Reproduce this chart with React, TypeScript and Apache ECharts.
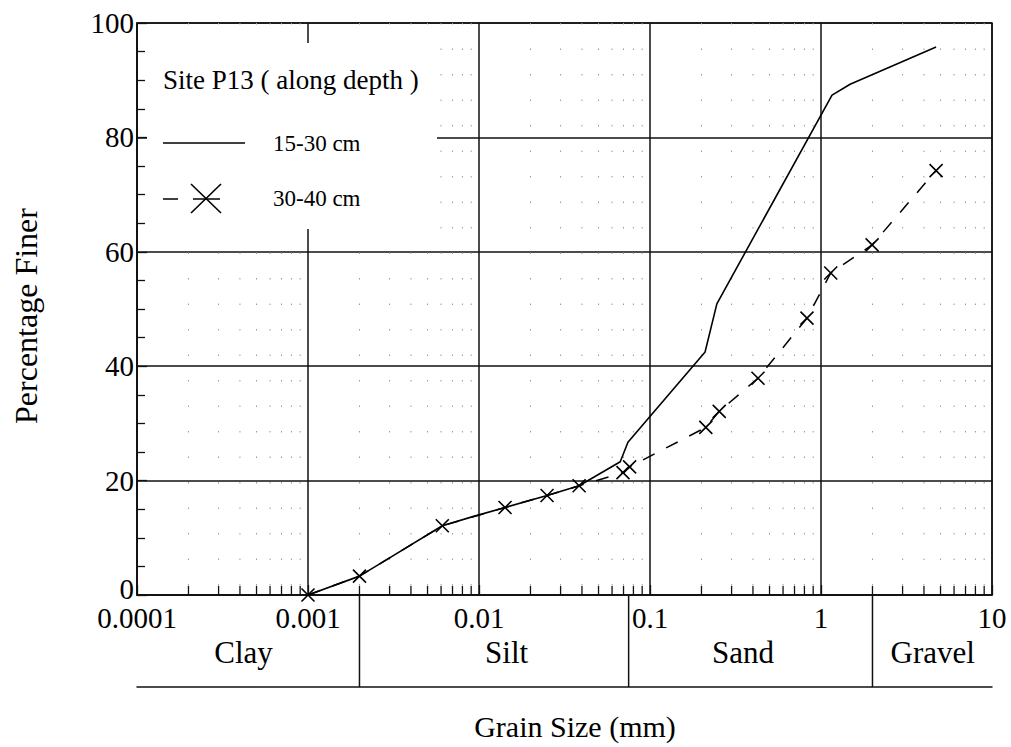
import React, { useEffect, useRef } from "react";
import * as echarts from "echarts";

// Axis labels
const xTickLabels = ["0.0001", "0.001", "0.01", "0.1", "1", "10"];
const decadeStarts = [0.0001, 0.001, 0.01, 0.1, 1];
const minorMultipliers = [2, 3, 4, 5, 6, 7, 8, 9];

// Grain size distribution, 15-30 cm depth
const sizes1530 = [0.001, 0.002, 0.003, 0.0061, 0.0092, 0.0142, 0.025, 0.0385, 0.067, 0.0743, 0.21, 0.246, 1.16, 1.48, 4.71];
const finer1530 = [0, 3.3, 6.5, 12.1, 13.7, 15.3, 17.4, 19.1, 23.3, 26.7, 42.5, 50.9, 87.4, 89.3, 95.8];

// Grain size distribution, 30-40 cm depth
const sizes3040 = [0.001, 0.002, 0.0061, 0.0142, 0.025, 0.0385, 0.0695, 0.076, 0.212, 0.254, 0.428, 0.828, 1.14, 1.99, 4.71];
const finer3040 = [0, 3.3, 12.1, 15.3, 17.4, 19.1, 21.4, 22.4, 29.3, 32.1, 37.9, 48.4, 56.3, 61.2, 74.2];

// Soil classes below the axis
const classNames = ["Clay", "Silt", "Sand", "Gravel"];
const classCenters = [0.00042, 0.0145, 0.35, 4.5];
const classBounds = [0.002, 0.075, 2];

const FONT = "Liberation Serif";
const INK = "#111";

const textStyle = (text: string, size: number, align: string) => ({
  text,
  font: `${size}px ${FONT}`,
  fill: "#000",
  align,
  verticalAlign: "middle",
  textAlign: align,
  textVerticalAlign: "middle",
});

export default function App() {
  const ref = useRef<HTMLDivElement>(null);

  useEffect(() => {
    if (!ref.current) return;
    const chart = echarts.init(ref.current, undefined, { renderer: "svg" });

    const minorTicks: number[] = [];
    decadeStarts.forEach((d) => minorMultipliers.forEach((m) => minorTicks.push(d * m)));

    const option: any = {
      animation: false,
      backgroundColor: "#fff",
      grid: [
        { left: 137, right: 19, top: 23, bottom: 152, show: true, borderColor: INK, borderWidth: 1.5 },
        { left: 137, right: 19, top: 595, height: 92 },
      ],
      xAxis: [
        {
          type: "log",
          logBase: 10,
          min: 0.0001,
          max: 10,
          gridIndex: 0,
          axisLine: { lineStyle: { color: INK, width: 1.5 } },
          axisTick: { inside: true, length: 10, lineStyle: { color: INK, width: 1.3 } },
          splitLine: { show: true, lineStyle: { color: INK, width: 1.5 } },
          axisLabel: {
            color: "#000",
            fontFamily: FONT,
            fontSize: 29,
            margin: 8,
            formatter: (v: number) => xTickLabels[Math.round(Math.log10(v)) + 4] ?? "",
          },
        },
        {
          type: "log",
          logBase: 10,
          min: 0.0001,
          max: 10,
          gridIndex: 1,
          position: "bottom",
          axisLine: { lineStyle: { color: INK, width: 1.5 } },
          axisTick: { show: false },
          axisLabel: { show: false },
          splitLine: { show: false },
        },
      ],
      yAxis: [
        {
          type: "value",
          min: 0,
          max: 100,
          interval: 20,
          gridIndex: 0,
          axisLine: { show: true, lineStyle: { color: INK, width: 1.5 } },
          axisTick: { show: true, inside: true, length: 10, lineStyle: { color: INK, width: 1.3 } },
          minorTick: { show: true, splitNumber: 4, length: 8, lineStyle: { color: INK, width: 1.3 } },
          splitLine: { show: true, lineStyle: { color: INK, width: 1.5 } },
          axisLabel: {
            color: "#000",
            fontFamily: FONT,
            fontSize: 29,
            margin: 3,
            // the zero label sits a little above the axis corner
            formatter: (v: number) => (v === 0 ? "{zero|0}" : String(v)),
            rich: {
              zero: { fontFamily: FONT, fontSize: 29, color: "#000", padding: [0, 0, 12, 0] },
            },
          },
        },
        { type: "value", min: 0, max: 1, gridIndex: 1, show: false },
      ],
      series: [
        {
          // minor decade ticks and faint dotted minor grid
          type: "custom",
          xAxisIndex: 0,
          yAxisIndex: 0,
          silent: true,
          z: 1,
          data: minorTicks.map((v) => [v, 0]),
          renderItem: (_p: any, api: any) => {
            const v = api.value(0);
            const b = api.coord([v, 0]);
            const t = api.coord([v, 100]);
            return {
              type: "group",
              children: [
                {
                  type: "line",
                  shape: { x1: t[0], y1: t[1], x2: b[0], y2: b[1] },
                  style: { stroke: "#999", lineWidth: 1, lineDash: [1.5, 24] },
                },
                {
                  type: "line",
                  shape: { x1: b[0], y1: b[1], x2: b[0], y2: b[1] - 9 },
                  style: { stroke: INK, lineWidth: 1.3 },
                },
              ],
            };
          },
        },
        {
          name: "15-30 cm",
          type: "line",
          xAxisIndex: 0,
          yAxisIndex: 0,
          z: 5,
          symbol: "none",
          data: sizes1530.map((s, i) => [s, finer1530[i]]),
          lineStyle: { color: "#000", width: 1.6 },
          color: "#000",
        },
        {
          name: "30-40 cm",
          type: "line",
          xAxisIndex: 0,
          yAxisIndex: 0,
          z: 6,
          symbol: "path://M0,0L10,10M10,0L0,10",
          symbolSize: 13,
          showAllSymbol: true,
          data: sizes3040.map((s, i) => [s, finer3040[i]]),
          lineStyle: { color: "#000", width: 1.5, type: [13, 13] },
          itemStyle: { color: "none", borderColor: "#000", borderWidth: 1.6 },
          color: "#000",
        },
        {
          // class boundaries
          type: "custom",
          xAxisIndex: 1,
          yAxisIndex: 1,
          silent: true,
          data: classBounds.map((v) => [v, 0]),
          renderItem: (_p: any, api: any) => {
            const v = api.value(0);
            const b = api.coord([v, 0]);
            const t = api.coord([v, 1]);
            return {
              type: "line",
              shape: { x1: t[0], y1: t[1], x2: b[0], y2: b[1] },
              style: { stroke: INK, lineWidth: 1.5 },
            };
          },
        },
        {
          // class names
          type: "custom",
          xAxisIndex: 1,
          yAxisIndex: 1,
          silent: true,
          data: classCenters.map((v) => [v, 0.38]),
          renderItem: (p: any, api: any) => {
            const c = api.coord([api.value(0), api.value(1)]);
            return {
              type: "text",
              x: c[0],
              y: c[1],
              style: textStyle(classNames[p.dataIndex], 31, "center"),
            };
          },
        },
      ],
      graphic: [
        {
          type: "rect",
          z: 100,
          shape: { x: 147, y: 43, width: 290, height: 186 },
          style: { fill: "#fff" },
        },
        { type: "text", z: 101, x: 163, y: 80, style: textStyle("Site P13 ( along depth )", 27, "left") },
        {
          type: "line",
          z: 101,
          shape: { x1: 163, y1: 143, x2: 245, y2: 143 },
          style: { stroke: "#000", lineWidth: 1.6 },
        },
        { type: "text", z: 101, x: 273, y: 143, style: textStyle("15-30 cm", 23, "left") },
        {
          type: "line",
          z: 101,
          shape: { x1: 163, y1: 199, x2: 178, y2: 199 },
          style: { stroke: "#000", lineWidth: 1.5 },
        },
        {
          type: "line",
          z: 101,
          shape: { x1: 193, y1: 199, x2: 220, y2: 199 },
          style: { stroke: "#000", lineWidth: 1.5 },
        },
        {
          type: "line",
          z: 101,
          shape: { x1: 191, y1: 184, x2: 221, y2: 213 },
          style: { stroke: "#000", lineWidth: 1.6 },
        },
        {
          type: "line",
          z: 101,
          shape: { x1: 191, y1: 213, x2: 221, y2: 184 },
          style: { stroke: "#000", lineWidth: 1.6 },
        },
        { type: "text", z: 101, x: 273, y: 198, style: textStyle("30-40 cm", 23, "left") },
        {
          type: "text",
          x: 26,
          y: 316,
          rotation: Math.PI / 2,
          style: textStyle("Percentage Finer", 32, "center"),
        },
        { type: "text", x: 575, y: 726, style: textStyle("Grain Size (mm)", 30, "center") },
      ],
    };

    chart.setOption(option);
    return () => chart.dispose();
  }, []);

  return (
    <div
      ref={ref}
      style={{ position: "fixed", left: 0, top: 0, width: 1011, height: 747, background: "#fff" }}
    />
  );
}
